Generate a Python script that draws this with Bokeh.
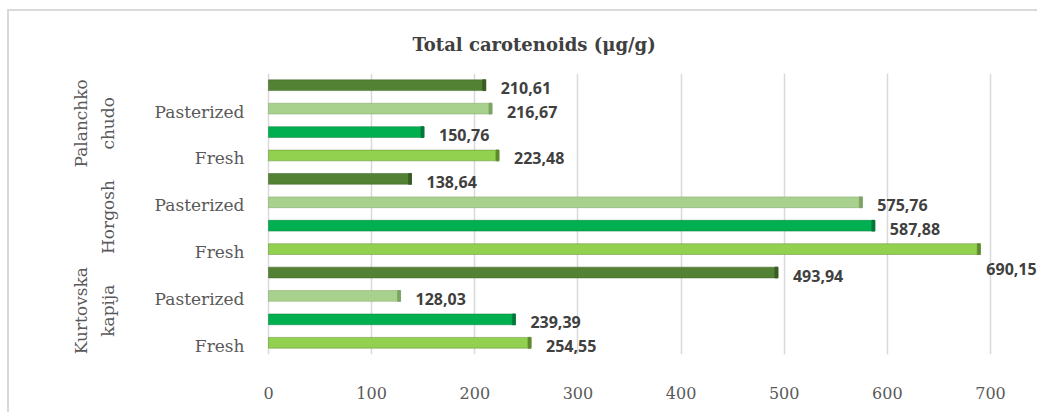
import math
from bokeh.plotting import figure
from bokeh.models import FixedTicker, Label, LabelSet, ColumnDataSource, Range1d
from bokeh.core.properties import value
from bokeh.embed import file_html
from bokeh.resources import INLINE

# ---------------- data ----------------
title_text = "Total carotenoids (μg/g)"
group_names = ["Kurtovska kapija", "Horgosh", "Palanchko chudo"]
group_lines = [["Kurtovska", "kapija"], ["Horgosh"], ["Palanchko", "chudo"]]
treatments = ["Fresh", "Pasterized"]
series_colors = ["#92D050", "#00B050", "#A9D18E", "#548235"]
edge_colors = ["#5E8A2C", "#00783A", "#7DA364", "#3A5C24"]
kurtovska_values = [254.55, 239.39, 128.03, 493.94]
horgosh_values = [690.15, 587.88, 575.76, 138.64]
palanchko_values = [223.48, 150.76, 216.67, 210.61]
x_ticks = [0, 100, 200, 300, 400, 500, 600, 700]
x_max = 700

group_values = [kurtovska_values, horgosh_values, palanchko_values]
n_per_group = len(kurtovska_values)

# ---------------- layout (pixels) ----------------
W, H = 1030, 403
ZERO_PX = 259          # canvas x of value 0
MAX_PX = 981           # canvas x of value x_max
px_per_unit = (MAX_PX - ZERO_PX) / x_max
x_start = -ZERO_PX / px_per_unit
x_end = x_max + (W - MAX_PX) / px_per_unit
cap_units = 3 / px_per_unit      # width of the shaded bar end (3D look)

# ---------------- build columns ----------------
ys, vals, caps, cols, edges, labels, dxs, dys = [], [], [], [], [], [], [], []
for g, gv in enumerate(group_values):
    for k, v in enumerate(gv):
        ys.append(g * n_per_group + k)
        vals.append(v)
        caps.append(v - cap_units)
        cols.append(series_colors[k])
        edges.append(edge_colors[k])
        labels.append(f"{v:.2f}".replace(".", ","))
        if v > 0.93 * x_max:      # label would hit the edge: put it below the bar end
            dxs.append(6)
            dys.append(-20)
        else:
            dxs.append(15)
            dys.append(-3)

src = ColumnDataSource(dict(y=ys, v=vals, cap=caps, c=cols, e=edges, t=labels, dx=dxs, dy=dys))

tick_pos = [g * n_per_group + 2 * i for g in range(len(group_values)) for i in range(len(treatments))]
tick_src = ColumnDataSource(dict(y=tick_pos,
                                 t=[treatments[(t % n_per_group) // 2] for t in tick_pos],
                                 x=[0] * len(tick_pos)))

n_bars = len(ys)
p = figure(width=W, height=H, x_range=Range1d(x_start, x_end), y_range=Range1d(-0.5, n_bars - 0.5),
           output_backend="svg", toolbar_location=None,
           min_border_left=0, min_border_right=0, min_border_top=62, min_border_bottom=60)
p.styles = {"margin-left": "7px", "margin-top": "9px",
            "border-left": "2px solid #d9d9d9", "border-top": "2px solid #d9d9d9"}

p.outline_line_color = None
p.background_fill_color = "white"
p.border_fill_color = "white"

p.hbar(y="y", left=0, right="v", height=0.46, fill_color="c", line_color="e", line_width=0.8,
       line_alpha=0.6, source=src)
p.hbar(y="y", left="cap", right="v", height=0.46, fill_color="e", line_color="e", line_width=0.8,
       source=src)

p.add_layout(LabelSet(x="v", y="y", text="t", x_offset="dx", y_offset="dy", source=src,
                      text_font=value("Open Sans"), text_font_style="bold", text_font_size="16px",
                      text_color="#404040", text_baseline="middle", text_align="left"))

# treatment labels (category axis)
p.add_layout(LabelSet(x="x", y="y", text="t", x_offset=-24, y_offset=-3, source=tick_src,
                      text_font=value("DejaVu Serif"), text_font_size="17px",
                      text_color="#595959", text_baseline="middle", text_align="right"))

# group labels (rotated)
for g, lines in enumerate(group_lines):
    yc = g * n_per_group + (n_per_group - 1) / 2
    for j, line in enumerate(reversed(lines)):
        p.add_layout(Label(x=0, y=yc, x_offset=-161 - 27 * j, y_offset=-3, text=line,
                           angle=math.pi / 2, text_font="DejaVu Serif", text_font_size="17px",
                           text_color="#595959", text_align="center", text_baseline="middle"))

# title
p.title.text = title_text
p.title.align = "left"
p.title.offset = 403
p.title.text_font = "DejaVu Serif"
p.title.text_font_style = "bold"
p.title.text_font_size = "18px"
p.title.text_color = "#404040"
p.title.standoff = 38

# grid
p.ygrid.grid_line_color = None
p.xgrid.grid_line_color = "#d9d9d9"
p.xgrid.grid_line_width = 1.5

# axes
p.yaxis.visible = False
p.xaxis.ticker = FixedTicker(ticks=x_ticks)
p.xaxis.axis_line_color = None
p.xaxis.major_tick_line_color = None
p.xaxis.minor_tick_line_color = None
p.xaxis.major_label_standoff = 26
p.xaxis.major_label_text_font = "DejaVu Serif"
p.xaxis.major_label_text_font_size = "16px"
p.xaxis.major_label_text_color = "#595959"

open("out.html", "w").write(file_html(p, INLINE))
